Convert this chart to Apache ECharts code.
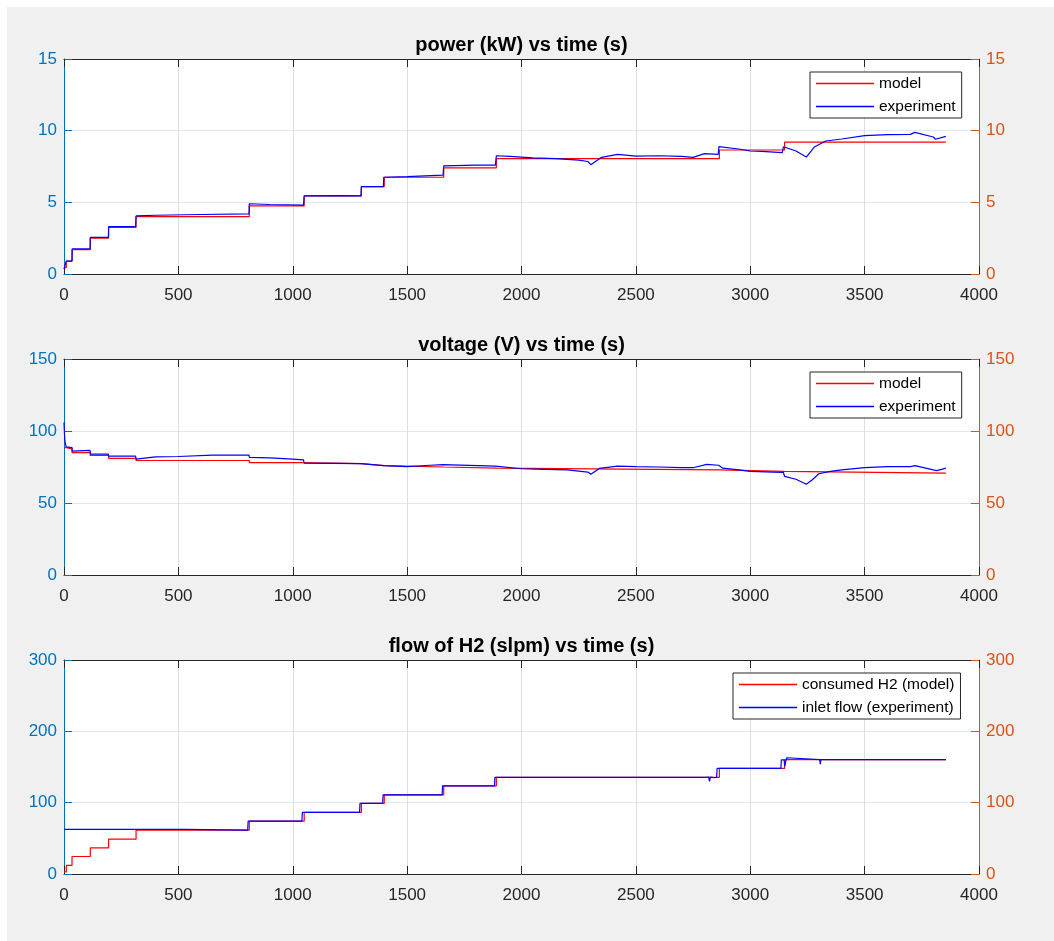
<!DOCTYPE html>
<html>
<head>
<meta charset="utf-8">
<script src="https://cdn.jsdelivr.net/npm/echarts@6/dist/echarts.min.js"></script>
<style>
html,body{margin:0;padding:0;background:#ffffff;}
#chart{position:absolute;left:7px;top:7px;width:1047px;height:934px;background:#f0f0f0;}
</style>
</head>
<body>
<div id="chart"></div>
<script>
// ---- data ----
const titles = ['power (kW) vs time (s)', 'voltage (V) vs time (s)', 'flow of H2 (slpm) vs time (s)'];
const legendNames = [['model', 'experiment'], ['model', 'experiment'], ['consumed H2 (model)', 'inlet flow (experiment)']];
const xTicks = [0, 500, 1000, 1500, 2000, 2500, 3000, 3500, 4000];
const yMax = [15, 150, 300];
const yStep = [5, 50, 100];

// model: piecewise-constant levels starting at these times
const stepTimes = [0, 10, 35, 115, 195, 315, 810, 1050, 1300, 1400, 1660, 1890, 2865, 3150, 3855];
const powerModel = [0.45, 0.9, 1.7, 2.5, 3.25, 4.0, 4.75, 5.45, 6.1, 6.75, 7.4, 8.05, 8.65, 9.2, 9.2];
const voltageModel = [88.5, 87.5, 85, 83, 81, 79.5, 78, 77.3, 76, 75, 74.2, 73, 72, 70.8, 70.8];
const flowModel = [3, 12, 24.5, 36.5, 49, 61.5, 74, 86.5, 99, 111, 123.5, 135.5, 148, 160.3, 160.3];

// experiment: [time, value]
const powerExperiment = [
  [0,0.35],[8,0.45],[10,0.9],[35,0.9],[36,1.75],[114,1.75],[115,2.55],[194,2.55],[195,3.3],[313,3.3],
  [315,4.05],[400,4.1],[600,4.15],[809,4.2],[810,4.9],[900,4.85],[1047,4.8],[1050,5.45],[1200,5.47],[1298,5.45],
  [1300,6.1],[1396,6.1],[1398,6.75],[1500,6.8],[1657,6.9],[1660,7.55],[1800,7.6],[1886,7.6],[1890,8.25],[1950,8.2],
  [2050,8.1],[2150,8.05],[2250,7.95],[2290,7.85],[2303,7.63],[2350,8.14],[2420,8.35],[2500,8.23],[2600,8.25],[2700,8.2],
  [2750,8.14],[2800,8.4],[2860,8.35],[2863,8.88],[2950,8.72],[3000,8.58],[3050,8.56],[3140,8.47],[3145,8.88],[3200,8.58],
  [3245,8.16],[3280,8.86],[3330,9.28],[3400,9.42],[3500,9.65],[3600,9.72],[3700,9.74],[3720,9.88],[3800,9.56],[3810,9.4],
  [3855,9.6]
];
const voltageExperiment = [
  [0,106],[3,95],[6,91],[10,89],[35,88.5],[36,86],[114,86.5],[115,84],[194,84],[195,82.5],
  [313,82.5],[315,80.5],[400,82],[500,82.3],[650,83.2],[809,83.3],[810,81.7],[900,81.3],[1000,80.5],[1047,80],
  [1050,77.7],[1298,77.3],[1300,76],[1396,76],[1398,75],[1500,75.3],[1600,76.2],[1657,76.6],[1660,75.5],[1886,75.6],
  [1890,74.3],[2000,73.8],[2100,73.4],[2200,73],[2290,71.5],[2303,70],[2340,74],[2420,75.6],[2500,75.3],[2600,75],
  [2700,74.5],[2750,74.5],[2810,76.8],[2862,76.2],[2880,74.2],[2950,73],[3000,72],[3100,71.5],[3145,71.2],[3150,68.5],
  [3200,66.5],[3245,63],[3270,66],[3300,70.3],[3350,72],[3400,73],[3500,74.5],[3600,75.2],[3700,75.3],[3720,76],
  [3800,73],[3815,72.5],[3840,73.5],[3855,74.2]
];
const flowExperiment = [
  [0,62.5],[530,62.5],[535,61.5],[803,61.5],[805,74],[1040,74],[1042,86.5],[1292,86.5],[1294,99],[1393,99],
  [1395,111],[1653,111],[1655,123.5],[1882,123.5],[1884,135.5],[2805,135.5],[2808,137],[2818,136],[2822,130],[2826,136],
  [2840,135],[2844,133],[2848,135.5],[2853,135.5],[2855,148],[3134,148],[3136,160],[3148,160],[3151,151],[3155,158],
  [3160,163],[3166,160.3],[3304,160.3],[3306,154],[3309,160.3],[3855,160.3]
];

// ---- chart ----
const FONT = '"Liberation Sans", Arial, Helvetica, sans-serif';
const LEFTC = '#0072BD', RIGHTC = '#D95319', AXC = '#262626';
const grids = [
  {left: 57, top: 52, width: 915, height: 215},
  {left: 57, top: 352, width: 915, height: 216},
  {left: 57, top: 653, width: 915, height: 214}
];
const legendPos = [
  {left: 803, top: 65},
  {left: 803, top: 365},
  {left: 726, top: 666}
];
const modelData = [powerModel, voltageModel, flowModel];
const expData = [powerExperiment, voltageExperiment, flowExperiment];
const plain = v => String(v);

const option = {
  animation: false,
  backgroundColor: '#f0f0f0',
  textStyle: {fontFamily: FONT},
  grid: grids.map(g => Object.assign({show: true, backgroundColor: '#ffffff', borderWidth: 0}, g)),
  graphic: titles.map((t, i) => ({
    type: 'text',
    x: grids[i].left + grids[i].width / 2,
    y: grids[i].top - 14,
    style: {text: t, textAlign: 'center', textVerticalAlign: 'middle', font: 'bold 20px ' + FONT, fill: '#000000'},
    z: 10
  })),
  legend: legendNames.map((names, i) => ({
    data: names.map(n => ({name: n, icon: 'rect'})),
    orient: 'vertical',
    left: legendPos[i].left,
    top: legendPos[i].top,
    align: 'left',
    itemWidth: 58,
    itemHeight: 1.4,
    itemGap: 2,
    padding: [1, 6, 1, 6],
    backgroundColor: '#ffffff',
    borderColor: AXC,
    borderWidth: 1,
    borderRadius: 0,
    selectedMode: false,
    textStyle: {fontSize: 15.5, color: '#000000', fontFamily: FONT, lineHeight: 21}
  })),
  xAxis: [],
  yAxis: [],
  series: []
};

for (let i = 0; i < 3; i++) {
  option.xAxis.push({
    type: 'value', gridIndex: i, position: 'bottom', min: xTicks[0], max: xTicks[xTicks.length - 1],
    interval: xTicks[1] - xTicks[0],
    axisLine: {show: true, onZero: false, lineStyle: {color: AXC, width: 1}},
    axisTick: {show: true, inside: true, length: 8, lineStyle: {color: AXC}},
    axisLabel: {color: AXC, fontSize: 17, margin: 13, fontFamily: FONT, formatter: plain},
    splitLine: {show: true, lineStyle: {color: '#dedede', width: 1}}
  });
  option.xAxis.push({
    type: 'value', gridIndex: i, position: 'top', min: xTicks[0], max: xTicks[xTicks.length - 1],
    interval: xTicks[1] - xTicks[0],
    axisLine: {show: true, onZero: false, lineStyle: {color: AXC, width: 1}},
    axisTick: {show: true, inside: true, length: 8, lineStyle: {color: AXC}},
    axisLabel: {show: false},
    splitLine: {show: false}
  });
  option.yAxis.push({
    type: 'value', gridIndex: i, position: 'left', min: 0, max: yMax[i], interval: yStep[i],
    axisLine: {show: true, onZero: false, lineStyle: {color: LEFTC, width: 1}},
    axisTick: {show: true, inside: true, length: 8, lineStyle: {color: LEFTC}},
    axisLabel: {color: LEFTC, fontSize: 17, margin: 7, fontFamily: FONT, formatter: plain},
    splitLine: {show: true, lineStyle: {color: '#dfe8f1', width: 1}}
  });
  option.yAxis.push({
    type: 'value', gridIndex: i, position: 'right', min: 0, max: yMax[i], interval: yStep[i],
    axisLine: {show: true, onZero: false, lineStyle: {color: RIGHTC, width: 1}},
    axisTick: {show: true, inside: true, length: 8, lineStyle: {color: RIGHTC}},
    axisLabel: {color: RIGHTC, fontSize: 17, margin: 7, fontFamily: FONT, formatter: plain},
    splitLine: {show: false}
  });
  option.series.push({
    type: 'line', name: legendNames[i][0], xAxisIndex: 2 * i, yAxisIndex: 2 * i,
    data: stepTimes.map((t, k) => [t, modelData[i][k]]),
    step: 'end', symbol: 'none', lineStyle: {color: '#ff0000', width: 1.2}, itemStyle: {color: '#ff0000'}, z: 3
  });
  option.series.push({
    type: 'line', name: legendNames[i][1], xAxisIndex: 2 * i, yAxisIndex: 2 * i,
    data: expData[i],
    symbol: 'none', lineStyle: {color: '#0000ff', width: 1.2}, itemStyle: {color: '#0000ff'}, z: 4
  });
}

const chart = echarts.init(document.getElementById('chart'), null, {renderer: 'canvas'});
chart.setOption(option);
</script>
</body>
</html>
